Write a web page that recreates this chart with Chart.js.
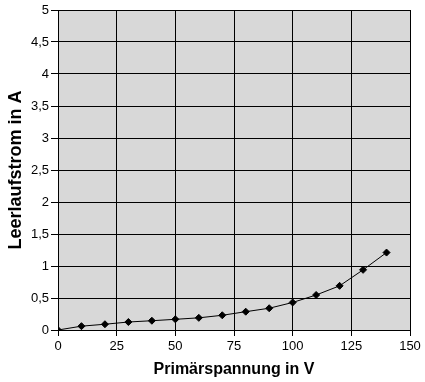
<!DOCTYPE html>
<html><head><meta charset="utf-8">
<script src="https://cdn.jsdelivr.net/npm/chart.js@4/dist/chart.umd.min.js"></script>
<style>html,body{margin:0;padding:0;background:#fff}#w{width:425px;height:382px}</style>
</head><body><div id="w"><canvas id="c"></canvas></div>
<script>
const voltages = [0,10,20,30,40,50,60,70,80,90,100,110,120,130,140];
const currents = [0,0.06,0.09,0.125,0.145,0.167,0.19,0.23,0.286,0.34,0.43,0.547,0.69,0.94,1.21];
const xTitle = 'Primärspannung in V';
const yTitle = 'Leerlaufstrom in A';

const bgPlugin = {
  id:'bg',
  beforeDraw(chart){
    const {ctx, chartArea:a} = chart;
    ctx.save(); ctx.fillStyle = '#d8d8d8';
    ctx.fillRect(a.left, a.top, a.right-a.left, a.bottom-a.top);
    ctx.restore();
  }
};
const fam = '"Liberation Sans", Arial, sans-serif';
const font = {family:fam, size:13};
new Chart(document.getElementById('c'), {
  type:'line',
  data:{datasets:[{
    data: voltages.map((v,i)=>({x:v,y:currents[i]})),
    borderColor:'#000', borderWidth:1, backgroundColor:'#000',
    pointStyle:'rectRot', pointRadius:3.5, pointHoverRadius:3.5, tension:0
  }]},
  options:{
    responsive:true, maintainAspectRatio:false, animation:false,
    layout:{padding:{left:0,top:10,right:15,bottom:0}},
    plugins:{legend:{display:false}, tooltip:{enabled:false}},
    scales:{
      x:{type:'linear', min:0, max:150,
        ticks:{stepSize:25, color:'#000', font, padding:3},
        grid:{color:'#000', lineWidth:1, tickLength:6},
        border:{color:'#000'},
        title:{display:true, text:xTitle, color:'#000', font:{family:fam, size:16, weight:'bold'}, padding:{top:4,bottom:3}},
        afterFit(s){ s.height = 52; }
      },
      y:{min:0, max:5,
        ticks:{stepSize:0.5, color:'#000', font, padding:2, callback:v=>String(v).replace('.',',')},
        grid:{color:'#000', lineWidth:1, tickLength:7},
        border:{color:'#000'},
        title:{display:true, text:yTitle, color:'#000', font:{family:fam, size:18, weight:'bold'}, padding:{top:5,bottom:4}},
        afterFit(s){ s.width = 58; }
      }
    }
  },
  plugins:[bgPlugin]
});
</script></body></html>
